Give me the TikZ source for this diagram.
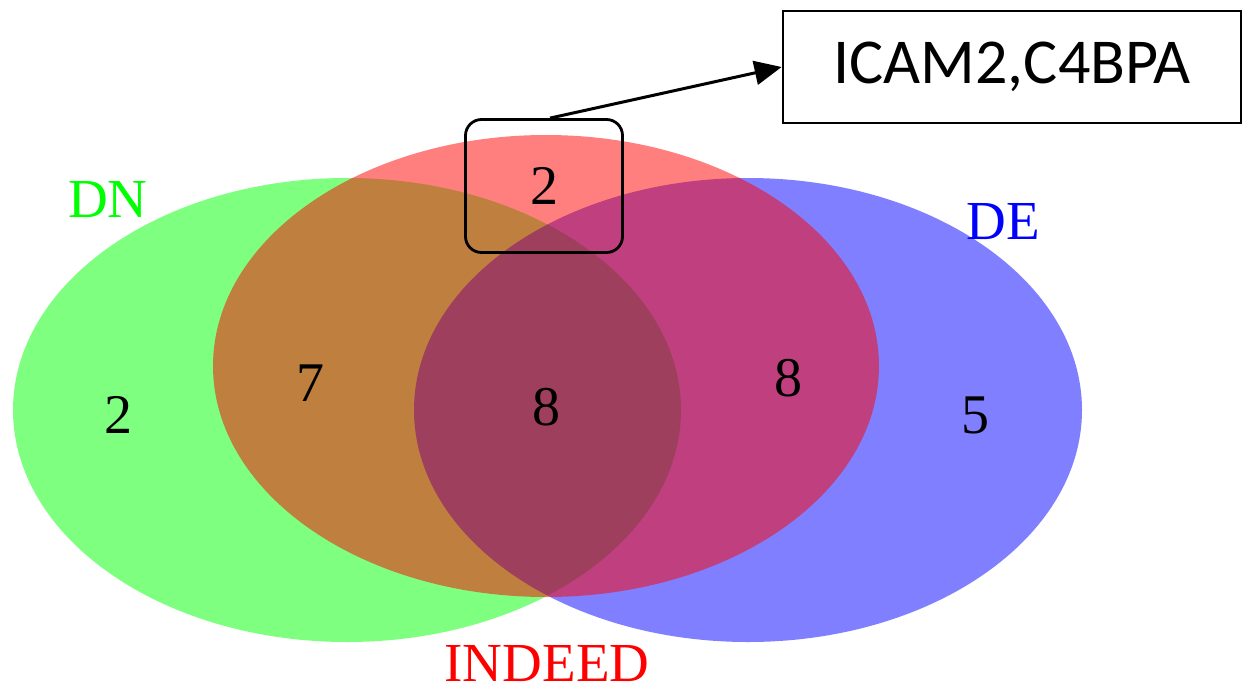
\documentclass[tikz,border=0pt]{standalone}
\usepackage{fontspec}
\setmainfont{Liberation Serif}
\newfontfamily\boxfont{Carlito}
\usetikzlibrary{arrows.meta}

\tikzset{
  venn/.style={fill opacity=0.5},
  count/.style={font=\fontsize{56}{60}\selectfont, text=black, inner sep=0pt},
  setname/.style={font=\fontsize{55}{60}\selectfont, inner sep=0pt}
}

\begin{document}
\begin{tikzpicture}[x=1pt,y=-1pt]
  \useasboundingbox (0,0) rectangle (1251,694);

  \fill[green,venn] (347,410) ellipse [x radius=334pt, y radius=232pt];
  \fill[blue,venn] (748,410) ellipse [x radius=334pt, y radius=232pt];
  \fill[red,venn] (546,366) ellipse [x radius=333pt, y radius=231pt];

  \node[setname,text=green] (dn) at (108,200) {DN};
  \node[setname,text=blue] (de) at (1003,222) {DE};
  \node[setname,text=red] (indeed) at (547,664) {INDEED};

  \node[count] (onlydn) at (118,415) {2};
  \node[count] (dnindeed) at (310,383) {7};
  \node[count] (all) at (546,407) {8};
  \node[count] (deindeed) at (788,378) {8};
  \node[count] (onlyde) at (975,415) {5};

  \node[count,draw,line width=2.8pt,rounded corners=16pt,minimum width=157pt,minimum height=133pt] (onlyindeed) at (544,186) {2};

  \node[draw,line width=2.8pt,minimum width=458pt,minimum height=112pt,font=\boxfont\fontsize{64}{70}\selectfont] (genes) at (1012,67) {ICAM2,C4BPA};
  \draw[line width=3pt,-{Triangle[length=27pt,width=24pt]}] ([xshift=6pt]onlyindeed.north) -- (genes.west);

\end{tikzpicture}
\end{document}
